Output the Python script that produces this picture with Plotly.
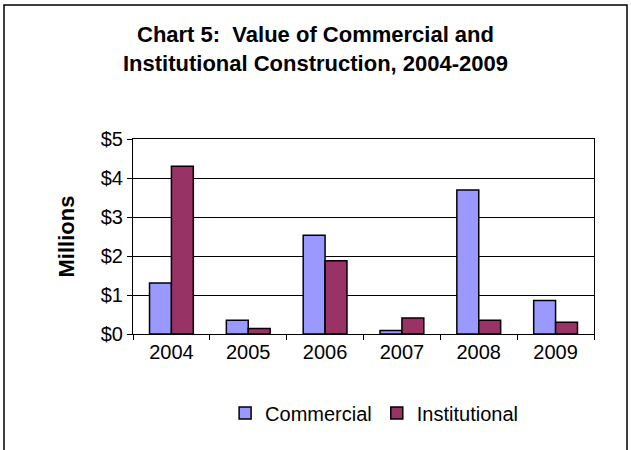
import plotly.graph_objects as go

years = ["2004", "2005", "2006", "2007", "2008", "2009"]
commercial = [1.31, 0.35, 2.53, 0.09, 3.69, 0.86]
institutional = [4.30, 0.14, 1.88, 0.41, 0.35, 0.30]

font_family = "Arial, Liberation Sans, sans-serif"

fig = go.Figure()
fig.add_trace(go.Bar(x=years, y=commercial, name="Commercial",
                     marker=dict(color="#9999FF", line=dict(color="black", width=1.5))))
fig.add_trace(go.Bar(x=years, y=institutional, name="Institutional",
                     marker=dict(color="#993366", line=dict(color="black", width=1.5))))

# plot area in pixels: x 133..594, y 139..334
fig.update_layout(
    width=631, height=450,
    margin=dict(l=133, r=37, t=139, b=116, autoexpand=False),
    paper_bgcolor="white", plot_bgcolor="white",
    font=dict(family=font_family, size=20, color="black"),
    barmode="group", bargap=0.43, bargroupgap=0,
    title=dict(text="<b>Chart 5:  Value of Commercial and<br>Institutional Construction, 2004-2009</b>",
               x=0.5, xref="container", xanchor="center",
               y=1 - 42 / 450, yref="container", yanchor="top",
               font=dict(size=22, family=font_family)),
    showlegend=True,
    legend=dict(orientation="h", x=0.523, xanchor="center", y=-0.405, yanchor="middle",
                font=dict(size=20), itemwidth=30, tracegroupgap=0),
)
fig.update_yaxes(range=[0, 5], dtick=1, tickprefix="$", tickformat="d",
                 showgrid=True, gridcolor="black", gridwidth=1,
                 showline=True, linecolor="black", linewidth=1, mirror=True,
                 ticks="outside", ticklen=5, tickcolor="black", zeroline=False,
                 title=dict(text="<b>Millions</b>", standoff=20, font=dict(size=22)))
fig.update_xaxes(showline=True, linecolor="black", linewidth=1, mirror=True,
                 ticks="outside", ticklen=5, tickcolor="black", tickson="boundaries",
                 showgrid=False)

# outer chart border
fig.add_shape(type="rect", xref="paper", yref="paper",
              x0=(4 - 133) / 461, x1=(627 - 133) / 461,
              y0=(334 - 460) / 195, y1=(334 - 5) / 195,
              line=dict(color="black", width=1.5), fillcolor="rgba(0,0,0,0)", layer="below")

fig.write_html("out.html", config={"displayModeBar": False},
               post_script="document.body.style.margin='0';")
